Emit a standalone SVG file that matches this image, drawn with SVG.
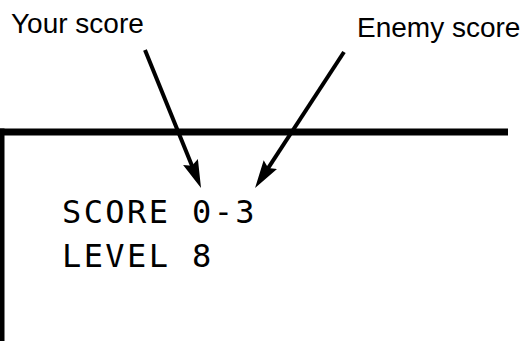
<svg xmlns="http://www.w3.org/2000/svg" width="529" height="341" viewBox="0 0 529 341">
<defs>
<style>
.label{font-family:"Liberation Sans",Arial,sans-serif;font-size:28px;fill:#000}
.screen{font-family:"DejaVu Sans Mono","Liberation Mono",monospace;font-size:32px;letter-spacing:2.4px;fill:#000}
.arrow{stroke:#000;stroke-width:4;fill:none;marker-end:url(#head)}
.frame{fill:#000}
</style>
<marker id="head" markerUnits="userSpaceOnUse" markerWidth="30" markerHeight="18" refX="8" refY="8" orient="auto" viewBox="0 0 30 18">
<path d="M0,0 L28,8 L0,16 L4,8 z" fill="#000"/>
</marker>
</defs>
<rect width="529" height="341" fill="#fff"/>
<g id="screen-frame">
<rect class="frame" x="0" y="128.5" width="508" height="7"/>
<rect class="frame" x="0" y="128.5" width="4.5" height="212.5"/>
</g>
<g id="screen-text">
<text class="screen" x="62" y="223">SCORE 0-3</text>
<text class="screen" x="62" y="266.5">LEVEL 8</text>
</g>
<g id="label-your-score">
<text class="label" x="11" y="33">Your score</text>
</g>
<g id="label-enemy-score">
<text class="label" x="357" y="37">Enemy score</text>
</g>
<g id="connectors">
<line class="arrow" x1="145" y1="50" x2="193.5" y2="169.5"/>
<line class="arrow" x1="344" y1="52" x2="266" y2="171.3"/>
</g>
</svg>
